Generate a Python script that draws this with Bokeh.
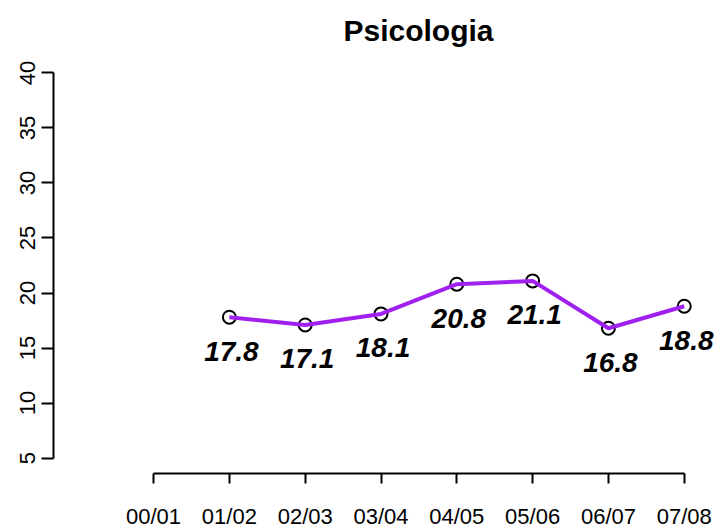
from bokeh.plotting import figure
from bokeh.models import Range1d, FixedTicker, Title
from bokeh.embed import file_html
from bokeh.resources import INLINE
from bokeh.core.properties import value

categories = ["00/01", "01/02", "02/03", "03/04", "04/05", "05/06", "06/07", "07/08"]
years = ["01/02", "02/03", "03/04", "04/05", "05/06", "06/07", "07/08"]
values = [17.8, 17.1, 18.1, 20.8, 21.1, 16.8, 18.8]
y_ticks = [5, 10, 15, 20, 25, 30, 35, 40]

x_pos = [categories.index(c) for c in years]
labels = [f"{v:.1f}" for v in values]

FONT = "Liberation Sans"

p = figure(width=719, height=531, output_backend="svg", toolbar_location=None,
           x_range=Range1d(-1.32, 7.465), y_range=Range1d(3.6, 41.4),
           min_border_left=53, min_border_right=0, min_border_top=56, min_border_bottom=56)
p.outline_line_color = None
p.grid.visible = False
p.background_fill_color = "white"
p.border_fill_color = "white"

p.title = Title(text="Psicologia", align="left", offset=290, standoff=22,
                text_font=FONT, text_font_size="30px", text_font_style="bold",
                text_color="black")

p.scatter(x_pos, values, size=13, fill_color=None, line_color="black", line_width=2)
p.line(x_pos, values, line_color="#A020F0", line_width=4)
p.text(x_pos, values, text=labels, text_font=value(FONT), text_font_size="28px",
       text_font_style="bold italic", text_color="black", text_align="center",
       text_baseline="middle", x_offset=2, y_offset=34)

for ax in (p.xaxis[0], p.yaxis[0]):
    ax.axis_line_width = 2
    ax.axis_line_color = "black"
    ax.major_tick_line_width = 2
    ax.major_tick_line_color = "black"
    ax.major_tick_in = 0
    ax.minor_tick_line_color = None
    ax.major_label_text_font = FONT
    ax.major_label_text_font_size = "22px"
    ax.major_label_text_color = "black"

p.xaxis.ticker = FixedTicker(ticks=list(range(len(categories))))
p.xaxis.major_label_overrides = {i: c for i, c in enumerate(categories)}
p.xaxis.bounds = (0, len(categories) - 1)
p.xaxis.major_tick_out = 10
p.xaxis.major_label_standoff = 20

p.yaxis.ticker = FixedTicker(ticks=y_ticks)
p.yaxis.bounds = (5, 40)
p.yaxis.major_tick_out = 12
p.yaxis.major_label_standoff = 6
p.yaxis.major_label_orientation = "vertical"

open("out.html", "w").write(file_html(p, INLINE))
